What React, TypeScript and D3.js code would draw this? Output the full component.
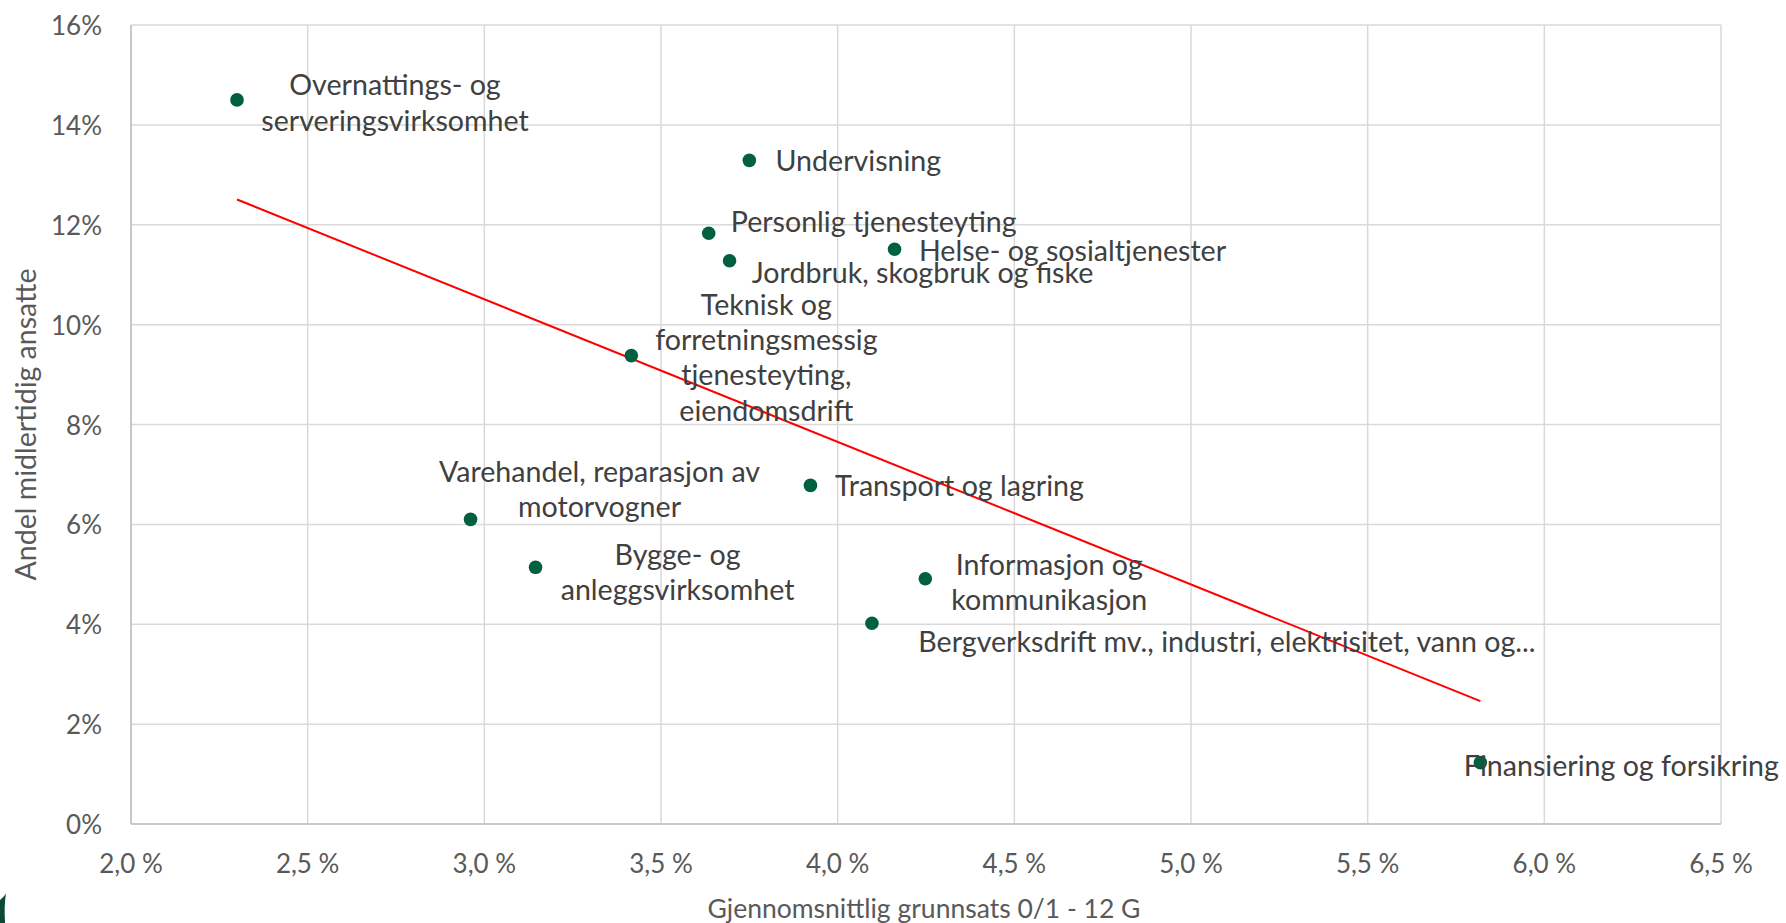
import React, { useMemo } from 'react';
import * as d3 from 'd3';

// Næringer (sectors), x = gjennomsnittlig grunnsats (%), y = andel midlertidig ansatte (%)
const sectors: string[] = [
  'Overnattings- og\nserveringsvirksomhet',
  'Undervisning',
  'Personlig tjenesteyting',
  'Jordbruk, skogbruk og fiske',
  'Helse- og sosialtjenester',
  'Teknisk og\nforretningsmessig\ntjenesteyting,\neiendomsdrift',
  'Varehandel, reparasjon av\nmotorvogner',
  'Transport og lagring',
  'Bygge- og\nanleggsvirksomhet',
  'Informasjon og\nkommunikasjon',
  'Bergverksdrift mv., industri, elektrisitet, vann og...',
  'Finansiering og forsikring',
];
const grunnsats: number[] = [2.30, 3.75, 3.635, 3.694, 4.161, 3.416, 2.961, 3.923, 3.145, 4.248, 4.097, 5.819];
const midlertidig: number[] = [14.5, 13.29, 11.83, 11.28, 11.51, 9.38, 6.10, 6.78, 5.14, 4.91, 4.02, 1.23];

// label placement relative to each point (px)
const labelDx: number[] = [158, 109, 165, 193, 178, 135, 129, 149, 142, 124, 355, 141];
const labelDy: number[] = [2, 0, -12, 11, 1, 1, -31, 0, 4, 3, 18, 2];

const xTicks: number[] = [2.0, 2.5, 3.0, 3.5, 4.0, 4.5, 5.0, 5.5, 6.0, 6.5];
const yTicks: number[] = [0, 2, 4, 6, 8, 10, 12, 14, 16];

const xTitle = 'Gjennomsnittlig grunnsats 0/1 - 12 G';
const yTitle = 'Andel midlertidig ansatte';

const W = 1786;
const H = 923;
const FONT = "Lato, 'Open Sans', sans-serif";
const TEXT = '#595959';
const DOT = '#00603F';
const LINE_H = 35.3;

const App = () => {
  const x = useMemo(() => d3.scaleLinear().domain([2.0, 6.5]).range([131, 1721]), []);
  const y = useMemo(() => d3.scaleLinear().domain([0, 16]).range([824, 25]), []);

  // linear trend line (least squares)
  const trend = useMemo(() => {
    const mx = d3.mean(grunnsats)!;
    const my = d3.mean(midlertidig)!;
    let sxy = 0, sxx = 0;
    grunnsats.forEach((v, i) => {
      sxy += (v - mx) * (midlertidig[i] - my);
      sxx += (v - mx) * (v - mx);
    });
    const slope = sxy / sxx;
    const [x0, x1] = d3.extent(grunnsats) as [number, number];
    return [x0, x1].map(v => ({ gx: v, gy: my + slope * (v - mx) }));
  }, []);

  const line = d3.line<{ gx: number; gy: number }>()
    .x(d => x(d.gx))
    .y(d => y(d.gy));

  const fmtX = (v: number) => d3.format('.1f')(v).replace('.', ',') + ' %';

  return (
    <svg width={W} height={H} style={{ position: 'absolute', left: 0, top: 0, background: '#fff' }} fontFamily={FONT}>
      {/* grid */}
      {yTicks.map(t => (
        <line key={'gy' + t} x1={x(2.0)} x2={x(6.5)} y1={y(t)} y2={y(t)} stroke="#D9D9D9" strokeWidth={1.5} />
      ))}
      {xTicks.map(t => (
        <line key={'gx' + t} x1={x(t)} x2={x(t)} y1={y(0)} y2={y(16)} stroke="#D9D9D9" strokeWidth={1.5} />
      ))}
      {/* axes */}
      <line x1={x(2.0)} x2={x(2.0)} y1={y(0)} y2={y(16)} stroke="#BFBFBF" strokeWidth={1.5} />
      <line x1={x(2.0)} x2={x(6.5)} y1={y(0)} y2={y(0)} stroke="#BFBFBF" strokeWidth={1.5} />

      {/* tick labels */}
      {yTicks.map(t => (
        <text key={'ty' + t} x={102} y={y(t)} textAnchor="end" dominantBaseline="central" fontSize={26} fill={TEXT}>
          {t + '%'}
        </text>
      ))}
      {xTicks.map(t => (
        <text key={'tx' + t} x={x(t)} y={863} textAnchor="middle" dominantBaseline="central" fontSize={26} fill={TEXT}>
          {fmtX(t)}
        </text>
      ))}

      {/* axis titles */}
      <text x={924} y={908} textAnchor="middle" dominantBaseline="central" fontSize={26.5} fill={TEXT}>{xTitle}</text>
      <text transform={`translate(25, ${y(8)}) rotate(-90)`} textAnchor="middle" dominantBaseline="central" fontSize={28.5} fill={TEXT}>{yTitle}</text>

      {/* trend line */}
      <path d={line(trend) || ''} fill="none" stroke="#FF0000" strokeWidth={2} />

      {/* points */}
      {grunnsats.map((g, i) => (
        <circle key={'p' + i} cx={x(g)} cy={y(midlertidig[i])} r={6.8} fill={DOT} />
      ))}

      {/* data labels */}
      {sectors.map((s, i) => {
        const lines = s.split('\n');
        const cx = x(grunnsats[i]) + labelDx[i];
        const cy = y(midlertidig[i]) + labelDy[i];
        return (
          <text key={'l' + i} textAnchor="middle" fontSize={28.6} fill="#404040">
            {lines.map((ln, j) => (
              <tspan key={j} x={cx} y={cy + (j - (lines.length - 1) / 2) * LINE_H} dominantBaseline="central">{ln}</tspan>
            ))}
          </text>
        );
      })}

      {/* logo fragment in the corner */}
      <path d="M0,923 L0,900 Q5,896 6,893 Q4,905 5,923 Z" fill="#0B4A36" />
    </svg>
  );
};

export default App;
